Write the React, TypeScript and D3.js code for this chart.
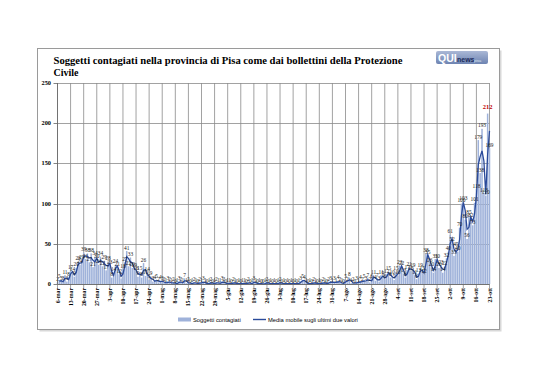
import React from "react";
import * as d3 from "d3";

// ---- DATA ----
const casesMar = [2,5,3,3,11,3,8,17,14,9,20,28,24,29,39,31,38,27,38,21,34,30,24,34,22,29];
const casesApr = [17,28,23,8,14,24,21,12,7,18,27,41,22,33,20,19,16,9,15,8,26,10,14,5,9,3,4,5,2,4];
const casesMag = [3,2,1,3,2,1,2,0,1,3,2,1,7,1,2,0,1,2,1,0,2,1,3,1,0,1,2,0,1,2,1];
const casesGiu = [1,3,2,0,1,1,0,2,1,0,1,0,1,1,0,2,0,1,3,1,0,1,0,0,1,2,0,1,0,1];
const casesLug = [0,1,2,0,1,0,1,0,1,0,1,0,1,3,5,4,1,0,1,0,2,1,0,1,0,2,1,0,2,3,1];
const casesAgo = [3,1,4,2,1,0,5,2,8,1,2,0,3,1,4,2,5,3,7,2,6,11,4,7,3,11,9,6,12,15,8];
const casesSet = [10,5,15,10,23,22,13,8,17,21,16,19,11,6,13,19,15,12,38,35,26,20,14,31,30,20,23,14,22,32];
const casesOtt = [40,61,52,35,45,40,70,100,103,80,56,85,82,73,101,118,179,138,193,113,110,212,169];
const tickLabels = ["6-mar","13-mar","20-mar","27-mar","3-apr","10-apr","17-apr","24-apr","1-mag","8-mag","15-mag","22-mag","29-mag","5-giu","12-giu","19-giu","26-giu","3-lug","10-lug","17-lug","24-lug","31-lug","7-ago","14-ago","21-ago","28-ago","4-set","11-set","18-set","25-set","2-ott","9-ott","16-ott","23-ott"];
const yTicks = [0, 50, 100, 150, 200, 250];
const titleLine1 = "Soggetti contagiati  nella provincia di Pisa come dai bollettini della Protezione";
const titleLine2 = "Civile";
const seriesNames = ["Soggetti contagiati", "Media mobile sugli ultimi due valori"];

const cases = [...casesMar, ...casesApr, ...casesMag, ...casesGiu, ...casesLug, ...casesAgo, ...casesSet, ...casesOtt];

export default function App() {
  const W = 538, H = 380;
  const x = d3.scaleLinear().domain([0, cases.length - 1]).range([57.5, 489.5]);
  const y = d3.scaleLinear().domain([0, 250]).range([284, 83]);
  const barW = 1.5;
  const maxV = d3.max(cases) as number;
  const avg = cases.map((v, i) => (i === 0 ? null : (v + cases[i - 1]) / 2));
  const line = d3
    .line<number | null>()
    .defined((d) => d !== null)
    .x((_, i) => x(i))
    .y((d) => y(d as number));
  const serif = "'Liberation Serif', 'Times New Roman', serif";
  const sans = "'Liberation Sans', Arial, sans-serif";

  return (
    <svg width={W} height={H} style={{ position: "absolute", left: 0, top: 0, background: "#fff" }}>
      <defs>
        <linearGradient id="logoG" x1="0" y1="0" x2="0" y2="1">
          <stop offset="0" stopColor="#aab8d6" />
          <stop offset="1" stopColor="#6e84b2" />
        </linearGradient>
      </defs>
      {/* frame with shadow */}
      <rect x={39.5} y={50.5} width={462} height={281} fill="#d8d8d8" />
      <rect x={37.5} y={48.5} width={462} height={281} fill="#fff" stroke="#9a9a9a" strokeWidth={1} />

      {/* title */}
      <text x={53.5} y={64} fontFamily={serif} fontWeight="bold" fontSize={10} textLength={349} lengthAdjust="spacingAndGlyphs" fill="#000">{titleLine1}</text>
      <text x={53.5} y={75.5} fontFamily={serif} fontWeight="bold" fontSize={10} fill="#000">{titleLine2}</text>

      {/* logo */}
      <g>
        <rect x={436} y={51} width={52} height={13} rx={2} fill="url(#logoG)" />
        <text x={438} y={62} fontFamily={sans} fontWeight="bold" fontSize={10.5} fill="#fff">QUI</text>
        <text x={457} y={61.5} fontFamily={sans} fontWeight="bold" fontSize={7} fill="#1c2c5a">news</text>
        <text x={474} y={61.5} fontFamily={sans} fontSize={4} fill="#dfe6f2">pisa</text>
      </g>

      {/* gridlines */}
      {yTicks.map((t) => (
        <line key={"h" + t} x1={57.5} x2={489.5} y1={Math.round(y(t)) + 0.5} y2={Math.round(y(t)) + 0.5} stroke="#8a8a8a" strokeWidth={0.8} />
      ))}
      {tickLabels.map((lab, k) => (
        <line key={"v" + lab} x1={x(k * 7)} x2={x(k * 7)} y1={83} y2={288} stroke="#8a8a8a" strokeWidth={0.8} />
      ))}

      {/* bars */}
      {cases.map((v, i) => (
        <rect key={"b" + i} x={x(i) - barW / 2} y={y(v)} width={barW} height={y(0) - y(v)} fill="#9fb2da" />
      ))}

      {/* moving average */}
      <path d={line(avg) || ""} fill="none" stroke="#2a4a9a" strokeWidth={1.3} />

      {/* data labels */}
      {cases.map((v, i) =>
        v === maxV ? (
          <text key={"l" + i} x={x(i)} y={y(v) - 5} textAnchor="middle" fontFamily={serif} fontWeight="bold" fontSize={6.5} fill="#c00000">{v}</text>
        ) : (
          <text key={"l" + i} x={x(i)} y={y(v) - 1.5} textAnchor="middle" fontFamily={serif} fontSize={5.4} fill="#222">{v}</text>
        )
      )}

      {/* axes */}
      <line x1={57.5} x2={57.5} y1={83} y2={284} stroke="#666" strokeWidth={0.8} />
      <line x1={57.5} x2={489.5} y1={284.5} y2={284.5} stroke="#666" strokeWidth={0.8} />
      {yTicks.map((t) => (
        <g key={"yt" + t}>
          <line x1={53.5} x2={57.5} y1={Math.round(y(t)) + 0.5} y2={Math.round(y(t)) + 0.5} stroke="#666" strokeWidth={0.8} />
          <text x={51} y={y(t) + 2} textAnchor="end" fontFamily={serif} fontWeight="bold" fontSize={6.3} fill="#000">{t}</text>
        </g>
      ))}
      {tickLabels.map((lab, k) => (
        <text key={"xt" + lab} transform={`translate(${x(k * 7) + 2},${288}) rotate(-90)`} textAnchor="end" fontFamily={serif} fontWeight="bold" fontSize={5.8} fill="#000">{lab}</text>
      ))}

      {/* legend */}
      <rect x={178} y={317.5} width={13} height={4} fill="#9fb2da" />
      <text x={193} y={321.5} fontFamily={sans} fontSize={5.8} fill="#000">{seriesNames[0]}</text>
      <line x1={253} x2={266} y1={319.5} y2={319.5} stroke="#2a4a9a" strokeWidth={1.4} />
      <text x={268} y={321.5} fontFamily={sans} fontSize={5.8} fill="#000">{seriesNames[1]}</text>
    </svg>
  );
}
